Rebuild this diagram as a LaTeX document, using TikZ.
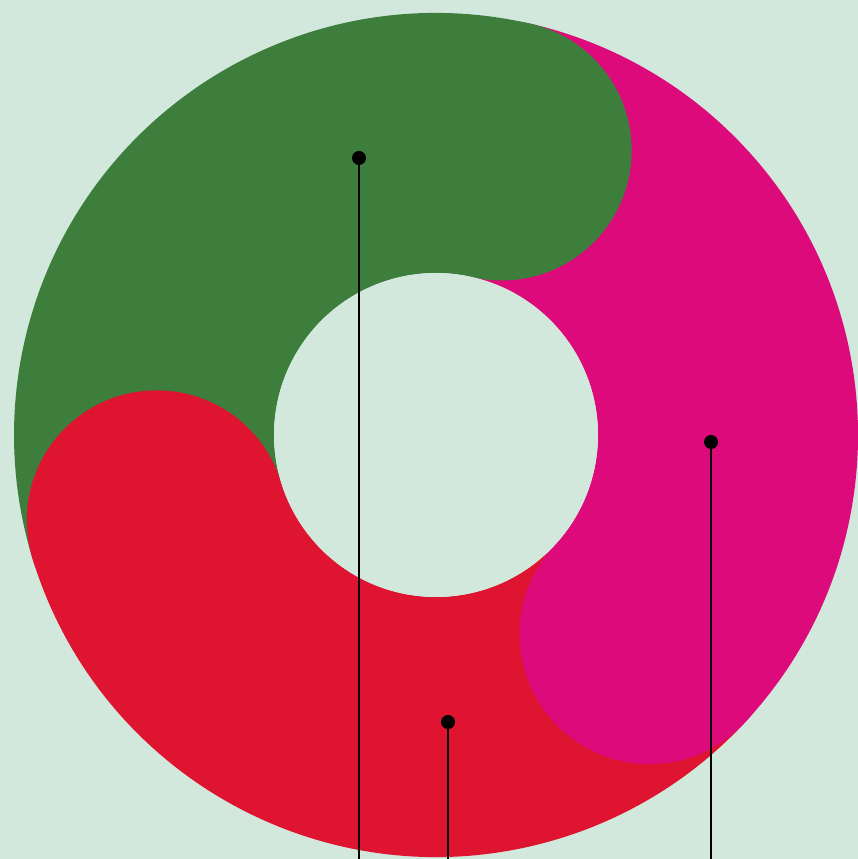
\documentclass[tikz,border=0pt]{standalone}
\usetikzlibrary{calc}
\definecolor{bg}{HTML}{D3E8DC}
\definecolor{segG}{HTML}{3D7E3D}
\definecolor{segP}{HTML}{DD0A7B}
\definecolor{segR}{HTML}{DE1430}
\tikzset{
  dotmark/.style={circle, fill=black, inner sep=0pt, minimum size=14pt},
  leader/.style={line width=2.4pt, black},
}
\begin{document}
\begin{tikzpicture}[x=1pt,y=1pt]
\fill[bg] (0,0) rectangle (858,859);
\useasboundingbox (0,0) rectangle (858,859);
\coordinate (C) at (436,424);
\def\Ro{422}
\def\Ri{162}
\def\Rm{292}
\def\Rc{130}
% annular sectors
\fill[segG] ($(C)+(77:\Ro)$) arc[start angle=77,end angle=197,radius=\Ro] -- ($(C)+(197:\Ri)$) arc[start angle=197,end angle=77,radius=\Ri] -- cycle;
\fill[segR] ($(C)+(197:\Ro)$) arc[start angle=197,end angle=317,radius=\Ro] -- ($(C)+(317:\Ri)$) arc[start angle=317,end angle=197,radius=\Ri] -- cycle;
\fill[segP] ($(C)+(-43:\Ro)$) arc[start angle=-43,end angle=77,radius=\Ro] -- ($(C)+(77:\Ri)$) arc[start angle=77,end angle=-43,radius=\Ri] -- cycle;
% round heads
\fill[segG] ($(C)+(77:\Rm)$) circle[radius=\Rc];
\fill[segR] ($(C)+(197:\Rm)$) circle[radius=\Rc];
\fill[segP] ($(C)+(-43:\Rm)$) circle[radius=\Rc];
% hole
\fill[bg] (C) circle[radius=\Ri];
% markers
\node[dotmark] (g) at (359,701) {};
\node[dotmark] (p) at (711,417) {};
\node[dotmark] (r) at (448,137) {};
\coordinate (gb) at (359,0);
\coordinate (pb) at (711,0);
\coordinate (rb) at (448,0);
\draw[leader] (g.center) -- (gb);
\draw[leader] (p.center) -- (pb);
\draw[leader] (r.center) -- (rb);
\end{tikzpicture}
\end{document}
